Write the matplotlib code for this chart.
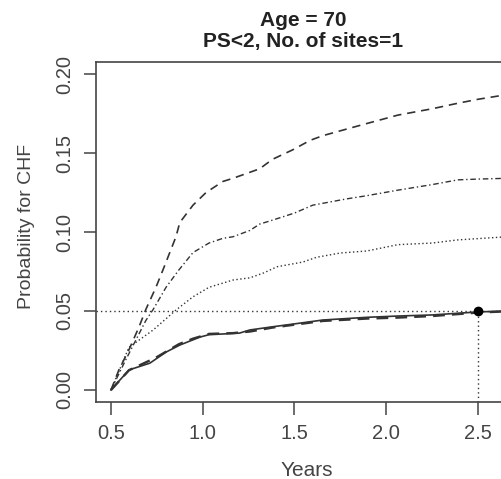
"""Probability for CHF vs years, age 70"""
import matplotlib
matplotlib.use("Agg")
import matplotlib.pyplot as plt

plt.rcParams['font.family'] = ['Liberation Sans', 'DejaVu Sans']

# top curve (long dash)
x_dash = [0.5, 0.543, 0.6, 0.653, 0.69, 0.745, 0.79, 0.854, 0.875, 0.947, 1.018, 1.11, 1.165,
          1.31, 1.38, 1.49, 1.585, 1.655, 1.764, 1.873, 2.064, 2.25, 2.39, 2.5, 2.66]
y_dash = [0.0, 0.0127, 0.026, 0.040, 0.051, 0.065, 0.078, 0.097, 0.106, 0.117, 0.125, 0.132, 0.134,
          0.140, 0.146, 0.152, 0.158, 0.161, 0.1645, 0.168, 0.174, 0.178, 0.1815, 0.184, 0.187]

# second curve (dash-dot)
x_dd = [0.5, 0.58, 0.69, 0.73, 0.80, 0.87, 0.947, 1.034, 1.11, 1.165, 1.257, 1.31, 1.38, 1.5,
        1.6, 1.786, 1.895, 2.064, 2.25, 2.39, 2.5, 2.66]
y_dd = [0.0, 0.019, 0.044, 0.051, 0.065, 0.076, 0.087, 0.093, 0.096, 0.097, 0.101, 0.105, 0.1075, 0.112,
        0.117, 0.121, 0.123, 0.1265, 0.13, 0.133, 0.1335, 0.134]

# third curve (dotted)
x_dot = [0.5, 0.598, 0.73, 0.854, 0.947, 1.034, 1.165, 1.257, 1.33, 1.405, 1.546, 1.62, 1.75,
         1.895, 2.064, 2.25, 2.39, 2.66]
y_dot = [0.0, 0.027, 0.038, 0.0506, 0.059, 0.065, 0.0696, 0.071, 0.074, 0.078, 0.081, 0.084, 0.0867,
         0.088, 0.092, 0.093, 0.095, 0.097]

# bottom curves (solid and dashed, nearly overlapping)
x_sol = [0.5, 0.598, 0.712, 0.80, 0.876, 0.985, 1.034, 1.2, 1.257, 1.38, 1.51, 1.655, 1.895,
         2.06, 2.25, 2.5, 2.66]
y_sol = [0.0, 0.0127, 0.017, 0.024, 0.0285, 0.0335, 0.035, 0.036, 0.038, 0.040, 0.042, 0.0443, 0.046,
         0.0468, 0.0475, 0.0494, 0.050]
x_low = [0.5, 0.598, 0.745, 0.87, 0.947, 1.034, 1.165, 1.257, 1.38, 1.51, 1.655, 1.895, 2.06,
         2.25, 2.5, 2.66]
y_low = [0.0, 0.0125, 0.0205, 0.029, 0.0325, 0.0355, 0.036, 0.037, 0.0395, 0.0415, 0.0437, 0.0452,
         0.0458, 0.0468, 0.049, 0.0498]

ref_y = 0.05
ref_x = 2.5
x_ticks = [0.5, 1.0, 1.5, 2.0, 2.5]
y_ticks = [0.00, 0.05, 0.10, 0.15, 0.20]

fig = plt.figure(figsize=(5.02, 4.79), dpi=100)
ax = fig.add_axes([96/502, 1 - 402/479, 411/502, 340/479])

lc = '#333333'
ax.plot(x_dash, y_dash, color=lc, lw=1.2, dashes=(5, 3.5))
ax.plot(x_dd, y_dd, color=lc, lw=1.0, dashes=(4, 2, 1, 2))
ax.plot(x_dot, y_dot, color=lc, lw=1.0, dashes=(1, 1.8))
ax.plot(x_low, y_low, color=lc, lw=1.7, dashes=(5, 3))
ax.plot(x_sol, y_sol, color=lc, lw=1.2)

ax.axhline(ref_y, color=lc, lw=1.0, dashes=(1, 2.2))
ax.plot([ref_x, ref_x], [-0.0076, ref_y], color=lc, lw=1.0, dashes=(1, 2.2))
ax.plot([ref_x], [ref_y], 'o', color='black', ms=6)

ax.set_xlim(0.4183, 2.658)
ax.set_ylim(-0.0076, 0.2076)
ax.set_xticks(x_ticks)
ax.set_xticklabels(['%.1f' % v for v in x_ticks])
ax.set_yticks(y_ticks)
ax.set_yticklabels(['%.2f' % v for v in y_ticks], rotation=90, va='center')

for s in ax.spines.values():
    s.set_color('#444444')
    s.set_linewidth(1.2)
ax.tick_params(direction='out', length=9, width=1.1, color='#444444',
               labelsize=14.5, labelcolor='#444444', pad=7)

fig.text(303/502, 1 - 20/479, 'Age = 70', ha='center', va='center',
         fontsize=15, fontweight='bold', color='#222222')
fig.text(303/502, 1 - 42/479, 'PS<2, No. of sites=1', ha='center', va='center',
         fontsize=15, fontweight='bold', color='#222222')
fig.text(27/502, 1 - 226/479, 'Probability for CHF', rotation=90, ha='center', va='center',
         fontsize=14, color='#444444')
fig.text(307/502, 1 - 476/479, 'Years', ha='center', va='baseline',
         fontsize=15, color='#444444')

fig.savefig('out.png', dpi=100)
